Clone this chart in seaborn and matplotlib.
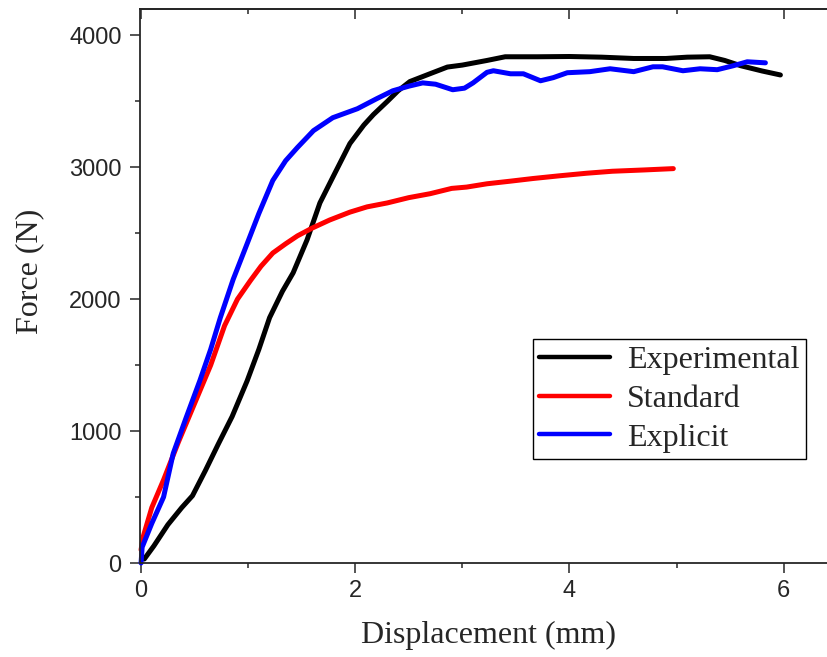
import matplotlib
matplotlib.use("Agg")
import matplotlib.pyplot as plt
from matplotlib.ticker import MultipleLocator
import numpy as np
import pandas as pd
import seaborn as sns

# Force-displacement curves (displacement in mm, force in N)
exp_disp = [0.03, 0.12, 0.25, 0.38, 0.48, 0.60, 0.72, 0.85, 0.99, 1.10, 1.20, 1.32,
            1.42, 1.55, 1.67, 1.80, 1.95, 2.08, 2.17, 2.30, 2.40, 2.51, 2.70, 2.86,
            3.00, 3.23, 3.40, 3.70, 4.00, 4.30, 4.60, 4.90, 5.10, 5.31, 5.45, 5.60,
            5.80, 5.97]
exp_force = [30, 130, 290, 420, 510, 700, 900, 1110, 1380, 1620, 1860, 2060,
             2200, 2450, 2730, 2940, 3180, 3320, 3400, 3500, 3580, 3650, 3710, 3760,
             3775, 3810, 3838, 3838, 3840, 3835, 3825, 3825, 3835, 3838, 3810, 3770,
             3730, 3700]

std_disp = [0.00, 0.02, 0.10, 0.21, 0.35, 0.50, 0.65, 0.78, 0.90, 1.02, 1.12, 1.23,
            1.35, 1.46, 1.60, 1.76, 1.95, 2.11, 2.30, 2.50, 2.70, 2.90, 3.04, 3.23,
            3.45, 3.66, 3.90, 4.16, 4.40, 4.70, 4.97]
std_force = [100, 200, 420, 630, 920, 1210, 1500, 1800, 2000, 2140, 2250, 2350,
             2420, 2480, 2540, 2600, 2660, 2700, 2730, 2770, 2800, 2840, 2850, 2875,
             2895, 2915, 2935, 2955, 2970, 2980, 2990]

expl_disp = [0.00, 0.01, 0.10, 0.21, 0.30, 0.42, 0.55, 0.65, 0.74, 0.86, 0.99, 1.10,
             1.23, 1.35, 1.46, 1.61, 1.79, 2.02, 2.20, 2.35, 2.50, 2.63, 2.75, 2.91,
             3.02, 3.10, 3.23, 3.29, 3.45, 3.57, 3.73, 3.85, 3.98, 4.19, 4.38, 4.60,
             4.78, 4.87, 5.06, 5.22, 5.38, 5.53, 5.66, 5.83]
expl_force = [0, 120, 300, 500, 830, 1100, 1385, 1620, 1860, 2150, 2420, 2650,
              2900, 3050, 3150, 3278, 3376, 3444, 3520, 3580, 3615, 3640, 3630, 3588,
              3600, 3640, 3720, 3732, 3709, 3709, 3656, 3680, 3717, 3725, 3747, 3725,
              3762, 3762, 3732, 3747, 3740, 3770, 3800, 3792]

series_names = ["Experimental", "Standard", "Explicit"]
series_colors = ["#000000", "#ff0000", "#0000ff"]

frames = []
for name, xs, ys in zip(series_names,
                        [exp_disp, std_disp, expl_disp],
                        [exp_force, std_force, expl_force]):
    frames.append(pd.DataFrame({"Displacement": xs, "Force": ys, "Model": name,
                                "order": np.arange(len(xs))}))
df = pd.concat(frames, ignore_index=True)

sns.set_style("ticks")
plt.rcParams["font.family"] = ["Liberation Sans", "DejaVu Sans"]
plt.rcParams["axes.linewidth"] = 1.3

fig = plt.figure(figsize=(8.27, 6.57), dpi=100)
ax = fig.add_axes([140 / 827, 94 / 657, 0.843, 0.8432])

sns.lineplot(data=df, x="Displacement", y="Force", hue="Model",
             hue_order=series_names, palette=series_colors,
             sort=False, estimator=None, units="Model",
             linewidth=3.6, ax=ax, legend=False, clip_on=False)

ax.set_xlim(-0.01, 6.5)
ax.set_ylim(0, 4200)
ax.xaxis.set_major_locator(MultipleLocator(2))
ax.xaxis.set_minor_locator(MultipleLocator(1))
ax.yaxis.set_major_locator(MultipleLocator(1000))
ax.yaxis.set_minor_locator(MultipleLocator(500))

ax.tick_params(which="both", direction="out", width=1.1, labelsize=17,
               top=False, right=False)
ax.tick_params(which="major", length=7.2)
ax.tick_params(which="minor", length=3.6)
ax.tick_params(axis="y", pad=6)
ax.tick_params(axis="x", pad=5)

# inward ticks mirrored on the top edge
top = ax.secondary_xaxis("top")
top.xaxis.set_major_locator(MultipleLocator(2))
top.xaxis.set_minor_locator(MultipleLocator(1))
top.tick_params(which="both", direction="in", width=1.1, labeltop=False)
top.tick_params(which="major", length=7.2)
top.tick_params(which="minor", length=3.6)

serif = ["Liberation Serif", "DejaVu Serif"]
ax.set_xlabel("Displacement (mm)", family=serif, fontsize=23, labelpad=14)
ax.set_ylabel("Force (N)", family=serif, fontsize=23)
ax.yaxis.set_label_coords(-0.137, 0.526)

handles = [plt.Line2D([], [], color=c, linewidth=3.2) for c in series_colors]
leg = fig.legend(handles, series_names, loc="upper left",
                 bbox_to_anchor=(533 / 827, 1 - 339 / 657),
                 prop={"family": serif, "size": 23},
                 frameon=True, fancybox=False, framealpha=1,
                 edgecolor="black", handlelength=2.2, handletextpad=0.55,
                 labelspacing=0.3, borderpad=0.2, borderaxespad=0)
leg.get_frame().set_linewidth(1.0)

fig.savefig("out.png", dpi=100)
